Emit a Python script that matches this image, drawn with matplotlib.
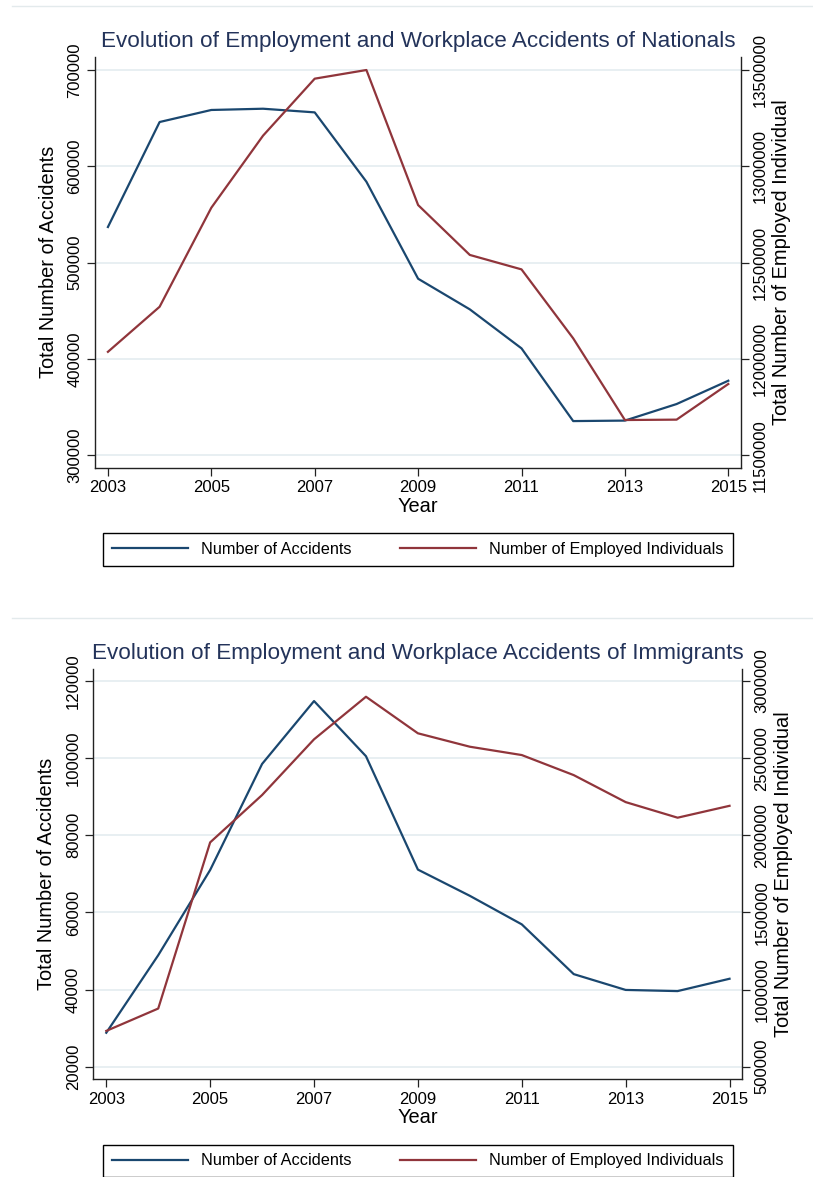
import matplotlib
matplotlib.use("Agg")
import matplotlib.pyplot as plt
from matplotlib.lines import Line2D
from matplotlib.ticker import FuncFormatter

plt.rcParams['font.family'] = ['Liberation Sans', 'DejaVu Sans']

# yearly series
years = [2003, 2004, 2005, 2006, 2007, 2008, 2009, 2010, 2011, 2012, 2013, 2014, 2015]
year_ticks = [2003, 2005, 2007, 2009, 2011, 2013, 2015]

nat_accidents = [537000, 646000, 658500, 659800, 656000, 584000, 483300,
                 451500, 411000, 335500, 336000, 353200, 377400]
nat_employed = [12037000, 12271000, 12785000, 13159000, 13455000, 13500000, 12799000,
                12540000, 12465000, 12107000, 11683000, 11685000, 11870000]

imm_accidents = [28800, 48900, 71000, 98500, 114800, 100500, 71100,
                 64300, 56900, 44000, 39900, 39600, 42800]
imm_employed = [732000, 877000, 1954000, 2261000, 2622000, 2898000, 2661000,
                2574000, 2520000, 2390000, 2215000, 2114000, 2191000]

nat_left_ticks = [300000, 400000, 500000, 600000, 700000]
nat_right_ticks = [11500000, 12000000, 12500000, 13000000, 13500000]
imm_left_ticks = [20000, 40000, 60000, 80000, 100000, 120000]
imm_right_ticks = [500000, 1000000, 1500000, 2000000, 2500000, 3000000]

BLUE = '#1a476f'
RED = '#90353b'
GRID = '#e6eef1'
AXC = '#222222'
TITLE_C = '#23335a'

W, H = 813, 1177
fig = plt.figure(figsize=(W / 100, H / 100), dpi=100)
fig.patch.set_facecolor('white')

plain = FuncFormatter(lambda v, p: '%d' % v)


def panel(rect, title, acc, emp, lticks, rticks, lylim, rylim, legend_box):
    ax = fig.add_axes(rect)
    ax2 = ax.twinx()

    ax.plot(years, acc, color=BLUE, lw=1.6, label='Number of Accidents')
    ax2.plot(years, emp, color=RED, lw=1.6, label='Number of Employed Individuals')

    ax.set_xlim(2002.75, 2015.24)
    ax.set_ylim(*lylim)
    ax2.set_ylim(*rylim)
    ax.set_xticks(year_ticks)
    ax.set_yticks(lticks)
    ax2.set_yticks(rticks)
    ax.yaxis.set_major_formatter(plain)
    ax2.yaxis.set_major_formatter(plain)

    ax.grid(axis='y', color=GRID, lw=1.3)
    ax.set_axisbelow(True)

    for a in (ax, ax2):
        a.spines['top'].set_visible(False)
        for s in ('left', 'right', 'bottom'):
            a.spines[s].set_color(AXC)
            a.spines[s].set_linewidth(1.0)
        a.tick_params(length=6, width=0.9, color=AXC, labelsize=12, pad=3)
    ax.spines['right'].set_visible(False)
    ax2.spines['left'].set_visible(False)
    ax2.spines['bottom'].set_visible(False)

    ax.tick_params(axis='y', labelrotation=90)
    ax2.tick_params(axis='y', labelrotation=90)
    for lab in ax.get_yticklabels() + ax2.get_yticklabels():
        lab.set_va('center')

    ax.set_xlabel('Year', fontsize=14.4, labelpad=1)
    ax.set_ylabel('Total Number of Accidents', fontsize=14.4, labelpad=7)
    ax2.set_ylabel('Total Number of Employed Individual', fontsize=14.4, labelpad=3)
    ax.set_title(title, fontsize=16.2, color=TITLE_C, y=1.0, pad=7)

    h1, = ax.get_lines()
    h2, = ax2.get_lines()
    x0, y0, x1, y1 = legend_box
    leg = fig.legend([h1, h2], [h1.get_label(), h2.get_label()],
                     loc='center', ncol=2, mode='expand',
                     bbox_to_anchor=(x0 / W, 1 - y1 / H, (x1 - x0) / W, (y1 - y0) / H),
                     borderaxespad=0, fontsize=11.7, handlelength=4.7,
                     handletextpad=0.82, borderpad=0.55, columnspacing=2.3,
                     fancybox=False, framealpha=1, edgecolor='black')
    leg.get_frame().set_linewidth(1.0)
    return ax, ax2


panel([95 / W, 1 - 467.7 / H, 645.7 / W, 410.7 / H],
      'Evolution of Employment and Workplace Accidents of Nationals',
      nat_accidents, nat_employed, nat_left_ticks, nat_right_ticks,
      (287100, 713500), (11435500, 13567500), (102.7, 531, 732.7, 568.3))

panel([93.3 / W, 1 - 1079.3 / H, 648.7 / W, 410.3 / H],
      'Evolution of Employment and Workplace Accidents of Immigrants',
      imm_accidents, imm_employed, imm_left_ticks, imm_right_ticks,
      (16730, 123110), (418300, 3077800), (102.7, 1142.3, 732.7, 1179.6))

# faint frame edges between the two graphs
for yp in (6, 617.7):
    fig.add_artist(Line2D([12 / W, 1], [1 - yp / H, 1 - yp / H],
                          transform=fig.transFigure, color='#e3eaec', lw=1))

fig.savefig('out.png', dpi=100)
